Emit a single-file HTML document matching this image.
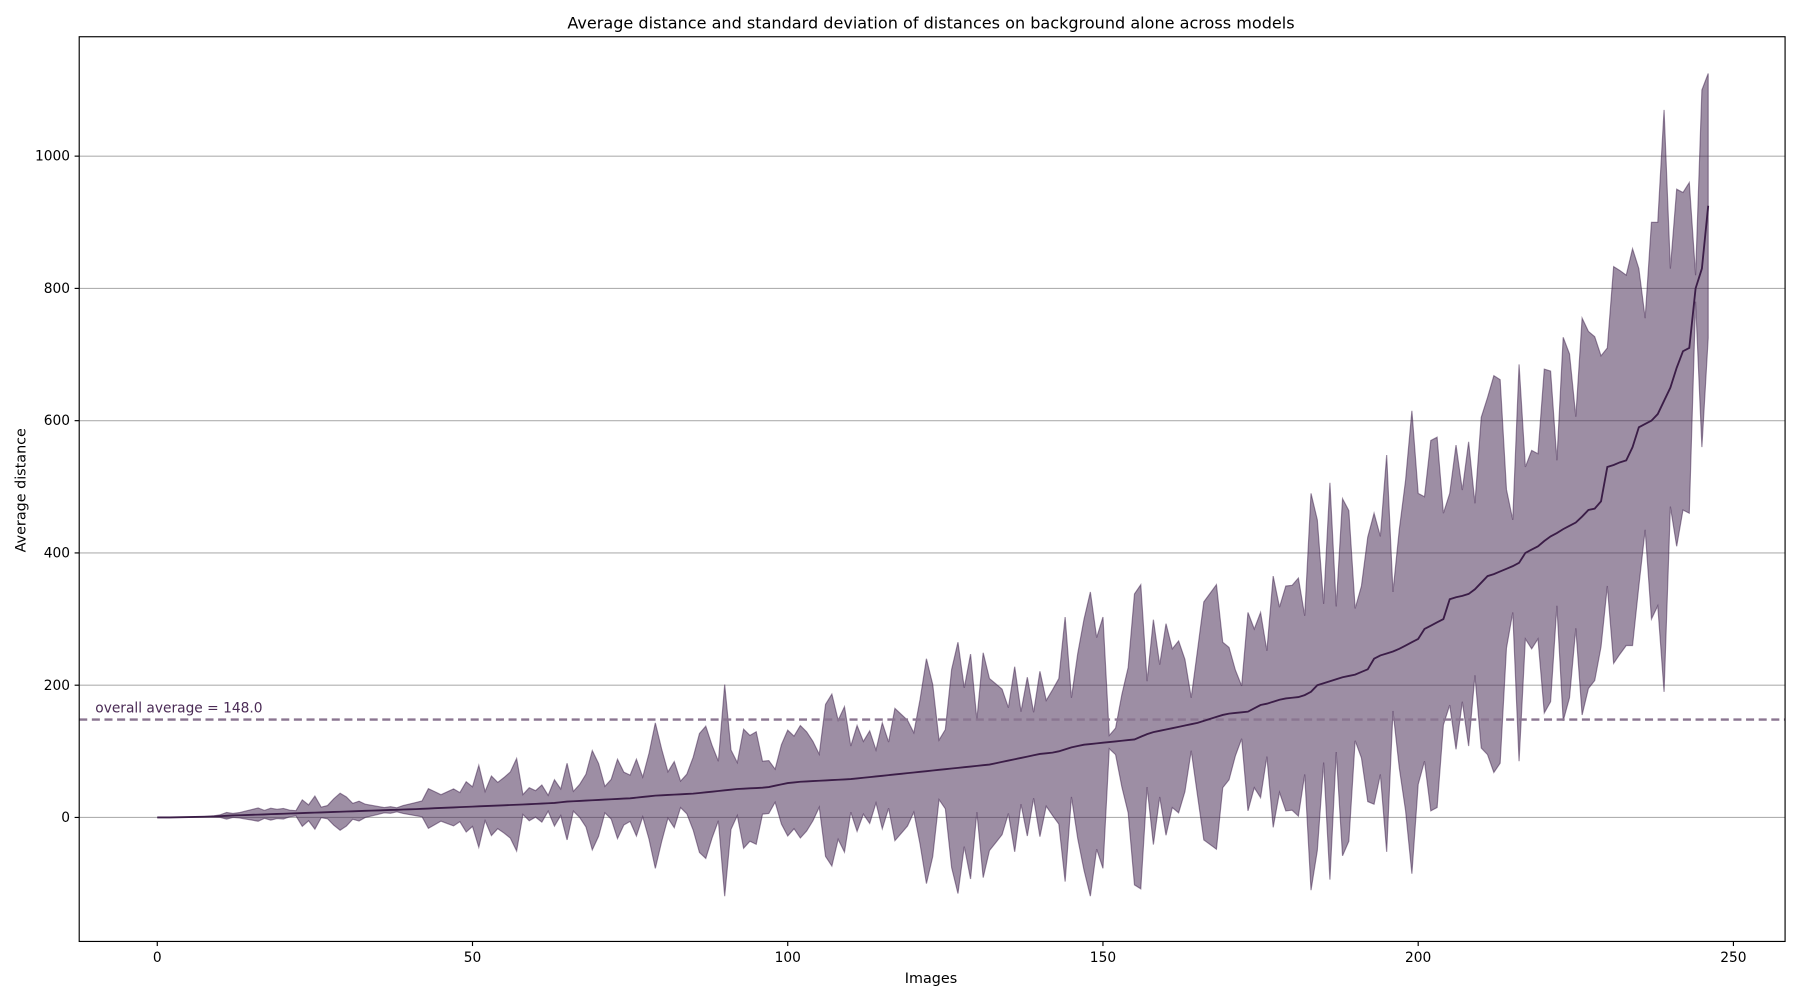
<!DOCTYPE html>
<html><head><meta charset="utf-8"><style>
html,body{margin:0;padding:0;background:#fff;}
svg{display:block;font-family:"DejaVu Sans","Liberation Sans",sans-serif;}
</style></head><body>
<svg id="chart" width="1800" height="1000" viewBox="0 0 1568 871" preserveAspectRatio="none" xmlns="http://www.w3.org/2000/svg">
<rect x="0" y="0" width="1568" height="871" fill="#fff"/>
<text x="811" y="25" text-anchor="middle" font-size="14" fill="#000">Average distance and standard deviation of distances on background alone across models</text>
<g id="grid"></g>
<g id="series"></g>
<rect x="69" y="32" width="1486" height="788" fill="none" stroke="#000" stroke-width="1"/>
<g id="xaxis"></g>
<g id="yaxis"></g>
<text x="811" y="856" text-anchor="middle" font-size="12.5">Images</text>
<text transform="translate(22,427) rotate(-90)" text-anchor="middle" font-size="12.5">Average distance</text>
</svg>
<script>
const meanValues=[0,0,0,0.2,0.4,0.6,0.8,1,1.2,1.5,
2,2.5,3,3.3,3.6,4,4.3,4.6,5,5.3,
5.6,6,6.3,6.6,7,7.3,7.6,8,8.3,8.6,
9,9.3,9.6,10,10.3,10.6,11,11.3,11.6,12,
12.3,12.6,13,13.5,14,14.4,14.8,15.2,15.6,16,
16.4,16.8,17.2,17.6,18,18.4,18.8,19.2,19.6,20,
20.5,21,21.5,22,23,24,24.5,25,25.5,26,
26.5,27,27.5,28,28.5,29,30,31,32,33,
33.5,34,34.5,35,35.5,36,37,38,39,40,
41,42,43,43.5,44,44.5,45,46,48,50,
52,53,54,54.5,55,55.5,56,56.5,57,57.5,
58,59,60,61,62,63,64,65,66,67,
68,69,70,71,72,73,74,75,76,77,
78,79,80,82,84,86,88,90,92,94,
96,97,98,100,103,106,108,110,111,112,
113,114,115,116,117,118,122,126,129,131,
133,135,137,139,141,143,146,149,152,155,
157,158,159,160,165,170,172,175,178,180,
181,182,185,190,200,203,206,209,212,214,
216,220,224,240,245,248,251,255,260,265,
270,285,290,295,300,330,333,335,338,345,
355,365,368,372,376,380,385,400,405,410,
418,425,430,436,441,446,455,465,467,478,
530,533,537,540,560,590,595,600,610,630,
650,680,705,710,800,830,925];
const stdValues=[0,0,0,0,0,0,0,0,0.5,1,
2,5,3,4,6,8,10,6,9,7,
8,5,4,20,12,25,8,10,20,28,
22,12,15,10,8,6,4,5,3,6,
8,10,12,30,25,20,24,28,22,38,
30,62,22,45,35,42,50,70,15,25,
20,28,12,35,20,58,15,25,40,75,
55,20,30,60,40,35,58,30,65,110,
70,35,50,20,30,55,90,100,70,45,
160,60,40,90,80,85,40,40,25,60,
80,70,85,75,60,40,115,130,90,110,
50,80,55,70,40,80,50,100,90,80,
60,110,170,130,45,60,150,190,120,170,
70,170,130,120,110,80,140,70,120,65,
125,80,95,110,200,75,140,190,230,160,
190,10,20,70,110,220,230,80,170,100,
160,120,130,100,40,110,180,190,200,110,
100,65,40,150,120,140,80,190,140,170,
170,180,120,300,250,120,300,110,270,250,
100,130,200,220,180,300,90,180,250,350,
220,200,280,280,160,160,230,160,230,130,
250,270,300,290,120,70,300,130,150,140,
260,250,110,290,260,160,300,270,260,220,
180,300,290,280,300,240,160,300,290,440,
180,270,240,250,20,270,200];
const xTicks=[0,50,100,150,200,250];
const yTicks=[0,200,400,600,800,1000];
const overallAverage=148.0;

const NS="http://www.w3.org/2000/svg";
function xs(v){return 137+(1510-137)*v/250;}
function ys(v){return 712-(712-136)*v/1000;}
function mk(tag,attrs,parent){const e=document.createElementNS(NS,tag);for(const k in attrs)e.setAttribute(k,attrs[k]);parent.appendChild(e);return e;}
const grid=document.getElementById('grid'),series=document.getElementById('series'),xa=document.getElementById('xaxis'),ya=document.getElementById('yaxis');
yTicks.forEach(t=>{
  const g=mk('line',{x1:69,x2:1555,y1:ys(t),y2:ys(t),stroke:'#b0b0b0','stroke-width':1},grid);
  
  
  mk('line',{x1:65,x2:69,y1:ys(t),y2:ys(t),stroke:'#000'},ya);
  const l=mk('text',{x:61,y:ys(t)+4,'text-anchor':'end','font-size':'12'},ya);
  l.textContent=t;
  
  
});
xTicks.forEach(t=>{
  mk('line',{x1:xs(t),x2:xs(t),y1:820,y2:824,stroke:'#000'},xa);
  const l=mk('text',{x:xs(t),y:838,'text-anchor':'middle','font-size':'12'},xa);
  l.textContent=t;
  
  
});
let up=[],lo=[];
meanValues.forEach((m,i)=>{up.push(xs(i)+','+ys(m+stdValues[i]));lo.unshift(xs(i)+','+ys(m-stdValues[i]));});
const band=mk('polygon',{points:up.concat(lo).join(' '),fill:'#3b1d4a','fill-opacity':0.5,stroke:'#3b1d4a','stroke-opacity':0.5,'stroke-width':1},series);


const avg=mk('line',{x1:69,x2:1555,y1:ys(overallAverage),y2:ys(overallAverage),stroke:'#8a7590','stroke-width':2,'stroke-dasharray':'7,4'},series);


const al=mk('text',{x:83,y:ys(overallAverage)-6,'font-size':'12',fill:'#4a2a55'},series);
al.textContent='overall average = '+overallAverage.toFixed(1);


const ml=mk('polyline',{points:meanValues.map((m,i)=>xs(i)+','+ys(m)).join(' '),fill:'none',stroke:'#3b1d47','stroke-width':1.6},series);


</script>
</body></html>
